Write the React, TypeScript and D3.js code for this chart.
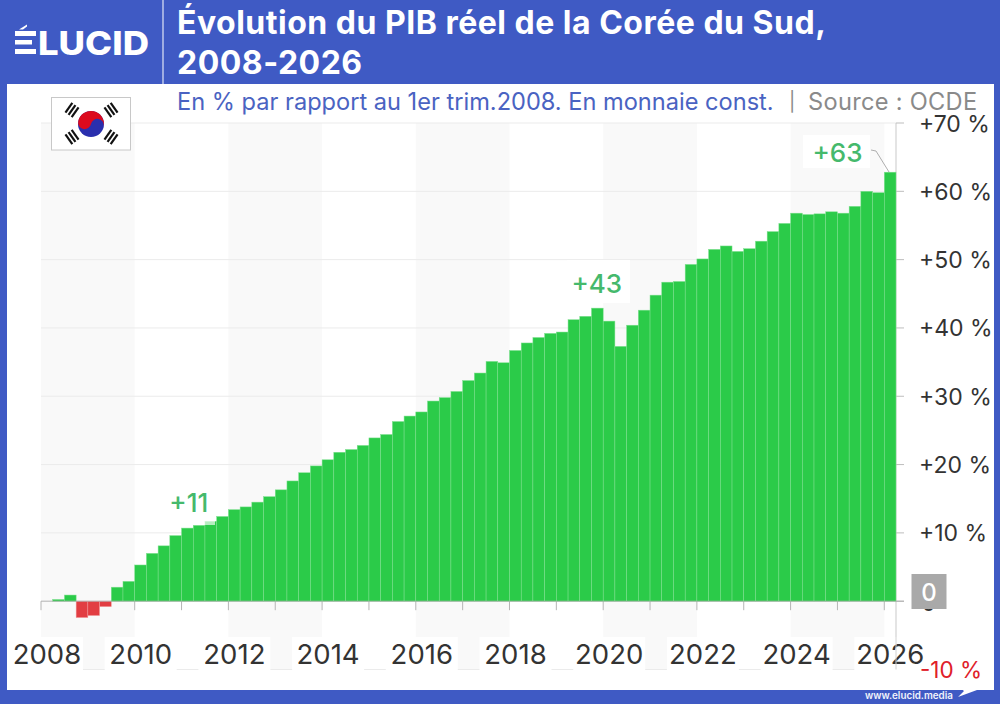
import * as React from "react";
import * as d3 from "d3";

// quarterly values, 2008 Q1 -> 2026 Q1
const quarters = d3.range(0, 73).map((i) => `${2008 + Math.floor(i / 4)}Q${(i % 4) + 1}`);
const gdpValues = [
    0, 0.25, 0.9, -2.4,
    -2.1, -0.8, 2.05, 2.9,
    5.3, 7.0, 8.1, 9.6,
    10.7, 11.1, 11.7, 12.4,
    13.4, 13.8, 14.5, 15.3,
    16.3, 17.6, 18.8, 19.8,
    20.7, 21.8, 22.2, 22.8,
    23.9, 24.4, 26.3, 27.1,
    27.7, 29.3, 29.8, 30.7,
    32.3, 33.4, 35.1, 34.9,
    36.7, 37.8, 38.6, 39.2,
    39.4, 41.2, 41.7, 42.9,
    41.0, 37.3, 40.4, 42.6,
    44.8, 46.7, 46.8, 49.3,
    50.1, 51.5, 52.0, 51.2,
    51.6, 52.7, 54.1, 55.3,
    56.8, 56.6, 56.7, 57.0,
    56.8, 57.8, 60.0, 59.8,
    62.8,
];
const years = d3.range(2008, 2027);
const yearLabels = [2008, 2010, 2012, 2014, 2016, 2018, 2020, 2022, 2024, 2026];
const shadedYears = [2008, 2012, 2016, 2020, 2024];
const percentTicks = [70, 60, 50, 40, 30, 20, 10, 0, -10];
const callouts = [
    { label: "+11", quarter: "2010Q4", dx: 19, top: 13.0 },
    { label: "+43", quarter: "2019Q3", dx: 17, top: 45.1 },
    { label: "+63", quarter: "2025Q1", dx: 0, top: 64.3 },
];

const FONT = "Inter, sans-serif";
const BLUE = "#3f5ac4";

export default function App() {
    const svgRef = React.useRef<SVGSVGElement>(null);

    React.useEffect(() => {
        const svg = d3.select(svgRef.current);
        svg.selectAll("*").remove();

        const x = d3.scaleBand().domain(quarters).range([41, 896]).paddingInner(0);
        const y = d3.scaleLinear().domain([-10, 70]).range([669.5, 123]);
        const yearX = (year: number) => x(`${year}Q1`);

        // shaded bands, every other two years
        svg.append("g")
            .selectAll("rect")
            .data(shadedYears)
            .enter()
            .append("rect")
            .attr("x", (d) => yearX(d))
            .attr("width", (d) => yearX(d + 2) - yearX(d))
            .attr("y", y(70))
            .attr("height", y(-10) - y(70))
            .attr("fill", "#f9f9f9");

        // grid
        svg.append("g")
            .selectAll("line")
            .data(percentTicks)
            .enter()
            .append("line")
            .attr("x1", 41)
            .attr("x2", 896)
            .attr("y1", (d) => y(d))
            .attr("y2", (d) => y(d))
            .attr("stroke", "#ebebeb")
            .attr("stroke-width", 1);

        // year ticks under the zero line
        svg.append("g")
            .selectAll("line")
            .data(years)
            .enter()
            .append("line")
            .attr("x1", (d) => yearX(d))
            .attr("x2", (d) => yearX(d))
            .attr("y1", y(0))
            .attr("y2", y(0) + 9)
            .attr("stroke", "#b5b5b5");

        // right axis
        svg.append("line")
            .attr("x1", 896)
            .attr("x2", 896)
            .attr("y1", y(70))
            .attr("y2", y(-10))
            .attr("stroke", "#d2d2d2")
            .attr("stroke-width", 1.2);
        svg.append("g")
            .selectAll("line")
            .data(percentTicks)
            .enter()
            .append("line")
            .attr("x1", 896)
            .attr("x2", 904)
            .attr("y1", (d) => y(d))
            .attr("y2", (d) => y(d))
            .attr("stroke", "#bdbdbd");

        // bars
        svg.append("g")
            .selectAll("rect")
            .data(gdpValues)
            .enter()
            .append("rect")
            .attr("x", (d, i) => x(quarters[i]))
            .attr("width", x.bandwidth())
            .attr("y", (d) => y(Math.max(d, 0)))
            .attr("height", (d) => Math.abs(y(d) - y(0)))
            .attr("fill", (d) => (d < 0 ? "#e23d42" : "#2bcb49"))
            .attr("stroke", (d) => (d < 0 ? "#f29a9c" : "#7fe08f"))
            .attr("stroke-width", 0.5);

        // zero line
        svg.append("line")
            .attr("x1", 41)
            .attr("x2", 904)
            .attr("y1", y(0))
            .attr("y2", y(0))
            .attr("stroke", "#a8a8a8")
            .attr("stroke-width", 0.8);

        // year labels with their white backing
        const yearGroup = svg.append("g");
        yearGroup
            .selectAll("rect")
            .data(yearLabels)
            .enter()
            .append("rect")
            .attr("x", (d) => yearX(d) + 6 - 36)
            .attr("width", 72)
            .attr("y", 637)
            .attr("height", 33)
            .attr("fill", "#fff");
        svg.append("line")
            .attr("x1", 896)
            .attr("x2", 896)
            .attr("y1", 637)
            .attr("y2", y(-10))
            .attr("stroke", "#d2d2d2");
        yearGroup
            .selectAll("text")
            .data(yearLabels)
            .enter()
            .append("text")
            .text((d) => d)
            .attr("x", (d) => yearX(d) + 6)
            .attr("y", 664)
            .attr("text-anchor", "middle")
            .attr("font-family", FONT)
            .attr("font-size", 27.5)
            .attr("fill", "#333");

        // percent labels
        svg.append("g")
            .selectAll("text")
            .data(percentTicks.filter((d) => d !== 0))
            .enter()
            .append("text")
            .text((d) => (d > 0 ? `+${d} %` : `${d} %`))
            .attr("x", (d) => (d > 0 ? 919 : 920))
            .attr("y", (d) => y(d) + 8.5)
            .attr("font-family", FONT)
            .attr("font-size", (d) => (d > 0 ? 23 : 22.5))
            .attr("fill", (d) => (d > 0 ? "#333" : "#e0202a"));

        // zero badge
        svg.append("text")
            .text("0")
            .attr("x", 928.5)
            .attr("y", y(0) + 10)
            .attr("text-anchor", "middle")
            .attr("font-family", FONT)
            .attr("font-size", 22.5)
            .attr("fill", "#333");
        svg.append("rect")
            .attr("x", 911.5)
            .attr("y", 574)
            .attr("width", 35)
            .attr("height", 35)
            .attr("fill", "#a9a9a9");
        svg.append("text")
            .text("0")
            .attr("x", 929)
            .attr("y", 600.5)
            .attr("text-anchor", "middle")
            .attr("font-family", FONT)
            .attr("font-weight", 500)
            .attr("font-size", 24)
            .attr("fill", "#fff");

        // callouts
        const haloBoxes = [
            { x: 165, w: 50, y0: 485, y1: 525, o: 0.65 },
            { x: 567, w: 63, y0: 260, y1: 303, o: 0.9 },
            { x: 803, w: 67, y0: 135, y1: 168, o: 0.9 },
        ];
        svg.append("g")
            .selectAll("rect")
            .data(haloBoxes)
            .enter()
            .append("rect")
            .attr("x", (d) => d.x)
            .attr("width", (d) => d.w)
            .attr("y", (d) => d.y0)
            .attr("height", (d) => d.y1 - d.y0)
            .attr("fill", "#fff")
            .attr("opacity", (d) => d.o);
        svg.append("g")
            .selectAll("text")
            .data(callouts)
            .enter()
            .append("text")
            .text((d) => d.label)
            .attr("x", (d) => x(d.quarter) + d.dx)
            .attr("y", (d) => y(d.top))
            .attr("text-anchor", "middle")
            .attr("font-family", FONT)
            .attr("font-weight", 500)
            .attr("font-size", 26)
            .attr("fill", "#45b96c");
        svg.append("path")
            .attr("d", d3.line()([[871, 150], [876, 151], [889, 172]]))
            .attr("fill", "none")
            .attr("stroke", "#999")
            .attr("stroke-width", 0.8);

        // frame
        const frame = svg.append("g").attr("fill", BLUE);
        frame.append("rect").attr("x", 0).attr("y", 0).attr("width", 1000).attr("height", 84);
        frame.append("rect").attr("x", 0).attr("y", 0).attr("width", 7).attr("height", 704);
        frame.append("rect").attr("x", 994).attr("y", 0).attr("width", 6).attr("height", 704);
        frame.append("rect").attr("x", 0).attr("y", 690).attr("width", 1000).attr("height", 14);
        svg.append("line")
            .attr("x1", 163)
            .attr("x2", 163)
            .attr("y1", 0)
            .attr("y2", 84)
            .attr("stroke", "#dfe4f6")
            .attr("stroke-width", 1.2);

        // logo
        const logo = svg.append("g").attr("fill", "#fff");
        logo.append("rect").attr("x", 15).attr("y", 31).attr("width", 21).attr("height", 5);
        logo.append("rect").attr("x", 15).attr("y", 40).attr("width", 17).attr("height", 4.5);
        logo.append("rect").attr("x", 15).attr("y", 49).attr("width", 21).attr("height", 5);
        logo.append("path").attr("d", "M19 29.5L27 24.5V26.5L23 29.5Z");
        logo.append("text")
            .text("LUCID")
            .attr("x", 38)
            .attr("y", 54.5)
            .attr("textLength", 111)
            .attr("lengthAdjust", "spacingAndGlyphs")
            .attr("font-family", FONT)
            .attr("font-weight", 800)
            .attr("font-size", 33);

        // titles
        const title = svg.append("g")
            .attr("font-family", FONT)
            .attr("font-weight", 700)
            .attr("font-size", 32)
            .attr("letter-spacing", 0.5)
            .attr("fill", "#fff");
        title.append("text").text("Évolution du PIB réel de la Corée du Sud,").attr("x", 177).attr("y", 33.5);
        title.append("text").text("2008-2026").attr("x", 177).attr("y", 73.5);

        const sub = svg.append("g").attr("font-family", FONT).attr("font-size", 23.6);
        sub.append("text")
            .text("En % par rapport au 1er trim.2008. En monnaie const.")
            .attr("x", 177)
            .attr("y", 110)
            .attr("fill", "#4a63c2");
        sub.append("text").text("|").attr("x", 789).attr("y", 108).attr("font-size", 19).attr("fill", "#8a8a8a");
        sub.append("text")
            .text("Source : OCDE")
            .attr("x", 808)
            .attr("y", 110)
            .attr("letter-spacing", 0.3)
            .attr("fill", "#8a8a8a");

        // flag
        const flag = svg.append("g");
        flag.append("rect")
            .attr("x", 51.5)
            .attr("y", 97.5)
            .attr("width", 79)
            .attr("height", 52.5)
            .attr("fill", "#fff")
            .attr("stroke", "#c8c8c8");
        const cx = 91;
        const cy = 124;
        const r = 13;
        flag.append("circle").attr("cx", cx).attr("cy", cy).attr("r", r).attr("fill", "#2a2fae");
        flag.append("path")
            .attr("d", `M${cx - r} ${cy}A${r} ${r} 0 0 1 ${cx + r} ${cy}A${r / 2} ${r / 2} 0 0 0 ${cx} ${cy}A${r / 2} ${r / 2} 0 0 1 ${cx - r} ${cy}Z`)
            .attr("fill", "#dc0a1e")
            .attr("transform", `rotate(12 ${cx} ${cy})`);
        const trigrams = [
            { tx: 72, ty: 110, rot: -55 },
            { tx: 111, ty: 110, rot: 55 },
            { tx: 72, ty: 137, rot: 55 },
            { tx: 111, ty: 137, rot: -55 },
        ];
        trigrams.forEach((t) => {
            const g = flag.append("g").attr("transform", `translate(${t.tx},${t.ty}) rotate(${t.rot})`);
            [-3.8, 0, 3.8].forEach((off) => {
                g.append("rect")
                    .attr("x", -6)
                    .attr("y", off - 1.1)
                    .attr("width", 12)
                    .attr("height", 2.2)
                    .attr("fill", "#111");
            });
        });

        // footer
        svg.append("text")
            .text("www.elucid.media")
            .attr("x", 865)
            .attr("y", 699)
            .attr("font-family", FONT)
            .attr("font-weight", 600)
            .attr("font-size", 9.8)
            .attr("fill", "#f1f3fb");
        svg.append("path")
            .attr("d", "M958 686L977 683V690L958 697L964 691Z")
            .attr("fill", "#fff");
    }, []);

    return (
        <svg
            ref={svgRef}
            width={1000}
            height={704}
            style={{ position: "absolute", left: 0, top: 0, background: "#fff" }}
        />
    );
}
